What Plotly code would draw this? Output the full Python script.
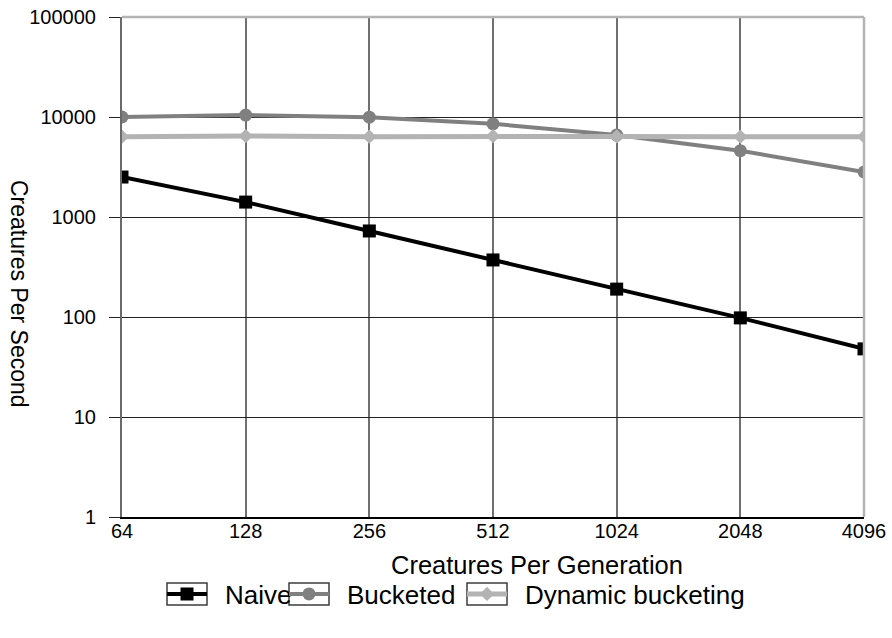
import plotly.graph_objects as go
import math

# Creatures per generation (x) and throughput in creatures per second (y)
generation_sizes = [64, 128, 256, 512, 1024, 2048, 4096]
naive = [2510, 1410, 725, 372, 190, 98, 48]
bucketed = [10000, 10450, 9950, 8550, 6600, 4600, 2820]
dynamic_bucketing = [6350, 6450, 6350, 6450, 6400, 6350, 6350]

y_tick_values = [1, 10, 100, 1000, 10000, 100000]
y_tick_labels = ["1", "10", "100", "1000", "10000", "100000"]
x_tick_labels = [str(v) for v in generation_sizes]

FONT = "Liberation Sans, Arial, sans-serif"
PLOT_L, PLOT_R, PLOT_T, PLOT_B = 122, 864, 17, 517
W, H = 892, 638
LEGEND_Y = 594
LEGEND_LEFTS = [162, 284, 462]   # left edge (px) of each legend entry
SYMBOL_W = 40


def px_x(px):
    return (px - PLOT_L) / (PLOT_R - PLOT_L)


def px_y(py):
    return (PLOT_B - py) / (PLOT_B - PLOT_T)


fig = go.Figure()
fig.add_trace(go.Scatter(
    x=generation_sizes, y=naive, name="\u2002Naive", mode="lines+markers",
    line=dict(color="#000000", width=4),
    marker=dict(symbol="square", size=13, color="#000000"),
    legend="legend",
))
fig.add_trace(go.Scatter(
    x=generation_sizes, y=bucketed, name="\u2002Bucketed", mode="lines+markers",
    line=dict(color="#808080", width=4),
    marker=dict(symbol="circle", size=13, color="#808080"),
    legend="legend2",
))
fig.add_trace(go.Scatter(
    x=generation_sizes, y=dynamic_bucketing, name="\u2002Dynamic bucketing",
    mode="lines+markers",
    line=dict(color="#b3b3b3", width=5),
    marker=dict(symbol="diamond", size=11, color="#b3b3b3"),
    legend="legend3",
))


def legend_at(left_px):
    return dict(
        orientation="h", x=px_x(left_px), xanchor="left", y=px_y(LEGEND_Y),
        yanchor="middle", font=dict(size=26), itemwidth=SYMBOL_W,
        bgcolor="rgba(0,0,0,0)",
    )


fig.update_layout(
    width=W, height=H,
    margin=dict(l=PLOT_L, r=W - PLOT_R, t=PLOT_T, b=H - PLOT_B, autoexpand=False),
    plot_bgcolor="white", paper_bgcolor="white",
    font=dict(family=FONT, size=20, color="#000000"),
    showlegend=True,
    legend=legend_at(LEGEND_LEFTS[0]),
    legend2=legend_at(LEGEND_LEFTS[1]),
    legend3=legend_at(LEGEND_LEFTS[2]),
    annotations=[
        dict(text="Creatures Per Generation", x=px_x(537), xref="paper",
             y=px_y(565), yref="paper", xanchor="center", yanchor="middle",
             showarrow=False, font=dict(size=25.5)),
        dict(text="Creatures Per Second", x=px_x(19), xref="paper",
             y=px_y(294), yref="paper", xanchor="center", yanchor="middle",
             showarrow=False, textangle=90, font=dict(size=23)),
    ],
)

fig.update_xaxes(
    type="log", range=[math.log10(64), math.log10(4096)],
    tickvals=generation_sizes, ticktext=x_tick_labels,
    showgrid=True, gridcolor="#707070", gridwidth=2,
    showline=True, linecolor="#000000", linewidth=1.5,
    ticks="", tickfont=dict(size=20), zeroline=False,
    automargin=False, ticklabelstandoff=-5,
)
fig.update_yaxes(
    type="log", range=[0, 5],
    tickvals=y_tick_values, ticktext=y_tick_labels,
    showgrid=True, gridcolor="#222222", gridwidth=1,
    showline=True, linecolor="#6a6a6a", linewidth=2,
    ticks="outside", ticklen=11, tickcolor="#222222", tickwidth=1,
    tickfont=dict(size=20), zeroline=False,
    automargin=False, ticklabelstandoff=9,
)
# light border along the top and right of the plot area
fig.add_shape(type="line", xref="paper", yref="paper", x0=0, x1=1, y0=1, y1=1,
              line=dict(color="#b4b4b4", width=2.5))
fig.add_shape(type="line", xref="paper", yref="paper", x0=1, x1=1, y0=0, y1=1,
              line=dict(color="#b4b4b4", width=2.5))
# outlined key boxes around each legend symbol
for left in LEGEND_LEFTS:
    fig.add_shape(
        type="rect", xref="paper", yref="paper",
        x0=px_x(left + 5), x1=px_x(left + 5 + SYMBOL_W),
        y0=px_y(LEGEND_Y + 11), y1=px_y(LEGEND_Y - 11),
        line=dict(color="#3c3c3c", width=1.5), layer="below",
    )

fig.write_html("out.html")
